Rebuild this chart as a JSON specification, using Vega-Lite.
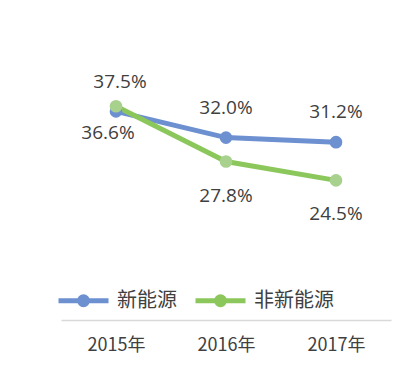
{
  "$schema": "https://vega.github.io/schema/vega-lite/v6.json",
  "autosize": "none",
  "padding": {"left": 61, "top": 35, "right": 9, "bottom": 57},
  "width": 330,
  "height": 285,
  "background": "white",
  "config": {"view": {"stroke": null}, "font": "Open Sans, Noto Sans CJK SC"},
  "data": {"values": [
    {"year": "2015年", "series": "新能源", "value": 36.6, "label": "36.6%"},
    {"year": "2016年", "series": "新能源", "value": 32.0, "label": "32.0%"},
    {"year": "2017年", "series": "新能源", "value": 31.2, "label": "31.2%"},
    {"year": "2015年", "series": "非新能源", "value": 37.5, "label": "37.5%"},
    {"year": "2016年", "series": "非新能源", "value": 27.8, "label": "27.8%"},
    {"year": "2017年", "series": "非新能源", "value": 24.5, "label": "24.5%"}
  ]},
  "encoding": {
    "x": {"field": "year", "type": "nominal", "sort": null,
      "scale": {"paddingInner": 0, "paddingOuter": 0},
      "axis": {"title": null, "labelAngle": 0, "ticks": false, "domainColor": "#d9d9d9", "domainWidth": 1.5,
        "labelFontSize": 18, "labelColor": "#404040", "labelPadding": 16, "labelFont": "Noto Sans CJK SC"}},
    "y": {"field": "value", "type": "quantitative", "scale": {"domain": [0, 50]}, "axis": null}
  },
  "layer": [
    {
      "mark": {"type": "line", "strokeWidth": 5, "strokeCap": "round"},
      "encoding": {
        "stroke": {"field": "series", "type": "nominal", "sort": ["新能源", "非新能源"],
          "scale": {"domain": ["新能源", "非新能源"], "range": ["#6d90d0", "#8cc75c"]},
          "legend": {"title": null, "orient": "none", "direction": "horizontal", "legendX": -5, "legendY": 238,
            "symbolType": "M-1,0H1M0.16,0A0.16,0.16 0 1,1 -0.16,0A0.16,0.16 0 1,1 0.16,0",
            "symbolSize": 2500, "symbolStrokeWidth": 5, "labelFontSize": 20, "labelColor": "#404040",
            "labelFont": "Noto Sans CJK SC", "labelOffset": 6, "columnPadding": 8,
            "encode": {"symbols": {"update": {"fill": {"scale": "fill", "field": "value"}}}}}
        }
      }
    },
    {
      "mark": {"type": "point", "filled": true, "size": 160, "opacity": 1},
      "encoding": {
        "fill": {"field": "series", "type": "nominal",
          "scale": {"domain": ["新能源", "非新能源"], "range": ["#6d90d0", "#a9d18e"]}, "legend": null}
      }
    },
    {
      "transform": [{"filter": "datum.series == '新能源' && datum.year != '2015年'"}],
      "mark": {"type": "text", "dy": -30, "fontSize": 19, "color": "#404040"},
      "encoding": {"text": {"field": "label"}}
    },
    {
      "transform": [{"filter": "datum.series == '新能源' && datum.year == '2015年'"}],
      "mark": {"type": "text", "dy": 22, "dx": -8, "fontSize": 19, "color": "#404040"},
      "encoding": {"text": {"field": "label"}}
    },
    {
      "transform": [{"filter": "datum.series == '非新能源' && datum.year == '2015年'"}],
      "mark": {"type": "text", "dy": -24, "dx": 4, "fontSize": 19, "color": "#404040"},
      "encoding": {"text": {"field": "label"}}
    },
    {
      "transform": [{"filter": "datum.series == '非新能源' && datum.year != '2015年'"}],
      "mark": {"type": "text", "dy": 34, "fontSize": 19, "color": "#404040"},
      "encoding": {"text": {"field": "label"}}
    }
  ]
}
